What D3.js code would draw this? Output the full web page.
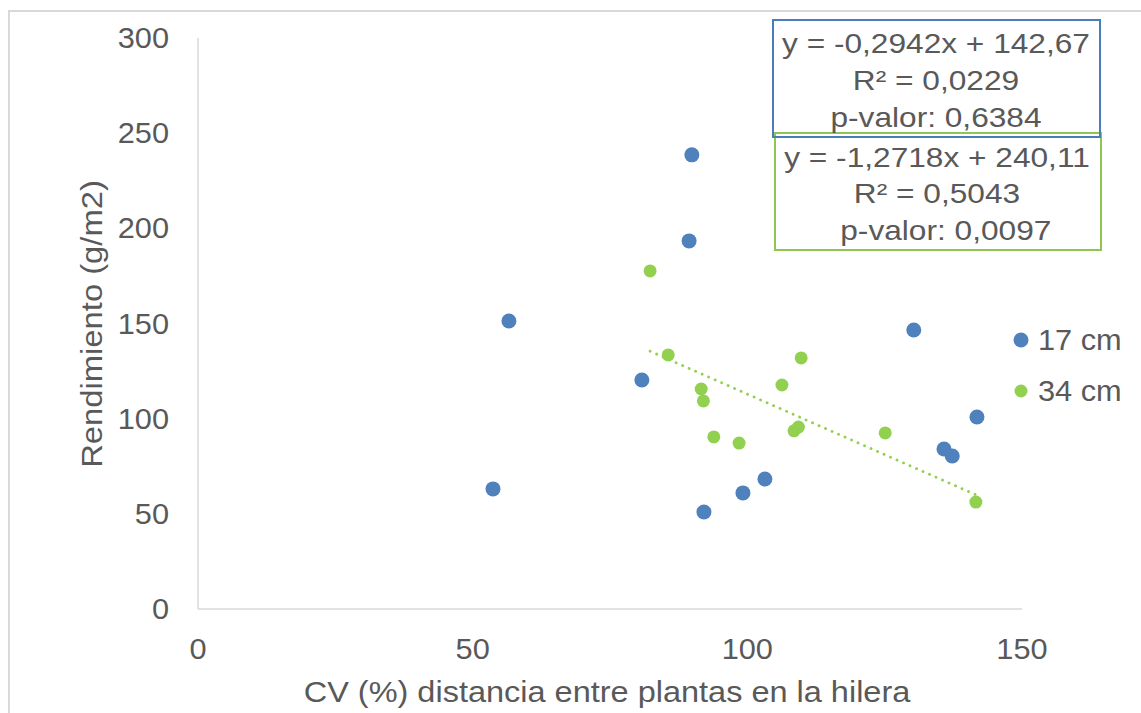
<!DOCTYPE html>
<html>
<head>
<meta charset="utf-8">
<script src="https://cdn.jsdelivr.net/npm/d3@7"></script>
<style>
  body { margin: 0; background: #fff; }
  text { font-family: "Liberation Sans", Arial, sans-serif; fill: #595959; }
</style>
</head>
<body>
<div id="chart"></div>
<script>
// 17 cm series
var cv17 = [89.9, 89.4, 56.6, 80.8, 53.7, 130.3, 141.8, 135.8, 137.3, 103.2, 99.2, 92.1];
var rend17 = [238.6, 193.4, 151.3, 120.3, 63.1, 146.6, 100.9, 84.1, 80.4, 68.3, 61.0, 51.0];
// 34 cm series
var cv34 = [82.3, 85.6, 91.6, 92.0, 93.9, 98.5, 106.3, 109.8, 108.5, 109.3, 125.1, 141.6];
var rend34 = [177.6, 133.5, 115.6, 109.3, 90.4, 87.2, 117.7, 131.9, 93.6, 95.6, 92.5, 56.2];

var seriesNames = ["17 cm", "34 cm"];
var xTicks = [0, 50, 100, 150];
var yTicks = [0, 50, 100, 150, 200, 250, 300];

// trendline of the 34 cm series
var trendSlope = -1.2718, trendIntercept = 240.11;

var statsBlue = ["y = -0,2942x + 142,67", "R\u00b2 = 0,0229", "p-valor: 0,6384"];
var statsGreen = ["y = -1,2718x + 240,11", "R\u00b2 = 0,5043", "  p-valor: 0,0097"];

var W = 1141, H = 713;
var blue = "#4f81bd", green = "#92d050";

var svg = d3.select("#chart").append("svg")
    .attr("width", W).attr("height", H);

// chart frame
svg.append("rect")
    .attr("x", 9).attr("y", 11)
    .attr("width", W + 20).attr("height", H + 20)
    .attr("fill", "none").attr("stroke", "#d9d9d9").attr("stroke-width", 2);

var x = d3.scaleLinear().domain([0, 150]).range([198, 1022]);
var y = d3.scaleLinear().domain([0, 300]).range([609, 38]);

// axis lines
svg.append("line")
    .attr("x1", x(0)).attr("x2", x(0))
    .attr("y1", y(0)).attr("y2", y(300))
    .attr("stroke", "#d9d9d9").attr("stroke-width", 1.5);
svg.append("line")
    .attr("x1", x(0)).attr("x2", x(150))
    .attr("y1", y(0)).attr("y2", y(0))
    .attr("stroke", "#d9d9d9").attr("stroke-width", 1.5);

// tick labels
svg.selectAll("text.ytick").data(yTicks).enter().append("text")
    .attr("class", "ytick")
    .attr("x", 169).attr("y", function(d) { return y(d); })
    .attr("dy", "0.35em")
    .attr("text-anchor", "end")
    .attr("data-k", 1.06)
    .style("font-size", "29px")
    .text(function(d) { return d; });

svg.selectAll("text.xtick").data(xTicks).enter().append("text")
    .attr("class", "xtick")
    .attr("x", function(d) { return x(d); }).attr("y", 659)
    .attr("text-anchor", "middle")
    .attr("data-k", 1.06)
    .style("font-size", "29px")
    .text(function(d) { return d; });

// axis titles
svg.append("text")
    .attr("x", 607).attr("y", 702)
    .attr("text-anchor", "middle")
    .attr("data-k", 1.12)
    .style("font-size", "29px")
    .text("CV (%) distancia entre plantas en la hilera");

svg.append("text")
    .attr("transform", "translate(102,324) rotate(-90)")
    .attr("text-anchor", "middle")
    .attr("data-k", 1.13)
    .style("font-size", "29px")
    .text("Rendimiento (g/m2)");

// trendline
var tx = d3.extent(cv34);
svg.append("line")
    .attr("x1", x(tx[0])).attr("y1", y(trendSlope * tx[0] + trendIntercept))
    .attr("x2", x(tx[1])).attr("y2", y(trendSlope * tx[1] + trendIntercept))
    .attr("stroke", green).attr("stroke-width", 2.8)
    .attr("stroke-linecap", "round")
    .attr("stroke-dasharray", "0.1 7");

// points
svg.selectAll("circle.s17").data(cv17).enter().append("circle")
    .attr("class", "s17")
    .attr("cx", function(d) { return x(d); })
    .attr("cy", function(d, i) { return y(rend17[i]); })
    .attr("r", 7.5)
    .attr("fill", blue);

svg.selectAll("circle.s34").data(cv34).enter().append("circle")
    .attr("class", "s34")
    .attr("cx", function(d) { return x(d); })
    .attr("cy", function(d, i) { return y(rend34[i]); })
    .attr("r", 6.5)
    .attr("fill", green);

// stats boxes
var drawBox = function(lines, color, bx, by, bw, bh, cx, ys) {
    svg.append("rect")
        .attr("x", bx).attr("y", by).attr("width", bw).attr("height", bh)
        .attr("fill", "none").attr("stroke", color).attr("stroke-width", 2);
    lines.forEach(function(t, i) {
        svg.append("text")
            .attr("x", cx).attr("y", ys[i])
            .attr("dy", "0.35em")
            .attr("text-anchor", "middle")
            .attr("data-k", 1.13)
            .style("font-size", "28px")
            .style("white-space", "pre")
            .text(t);
    });
};
drawBox(statsGreen, "#8fc651", 775, 133, 326, 117, 937, [157, 193, 230]);
drawBox(statsBlue, "#4a7ebb", 773, 20, 327, 117, 936, [43, 80, 117]);

// legend
var legColors = [blue, green], legR = [7.5, 6.5], legY = [340, 391];
seriesNames.forEach(function(n, i) {
    svg.append("circle")
        .attr("cx", 1021).attr("cy", legY[i]).attr("r", legR[i])
        .attr("fill", legColors[i]);
    svg.append("text")
        .attr("x", 1038).attr("y", legY[i])
        .attr("dy", "0.35em")
        .attr("data-k", 1.06)
        .style("font-size", "29px")
        .text(n);
});

// the original font runs a little wider than Arial
svg.selectAll("text").each(function() {
    var k = +this.getAttribute("data-k") || 1;
    var w = this.getComputedTextLength();
    d3.select(this)
        .attr("textLength", w * k)
        .attr("lengthAdjust", "spacingAndGlyphs");
});
</script>
</body>
</html>
